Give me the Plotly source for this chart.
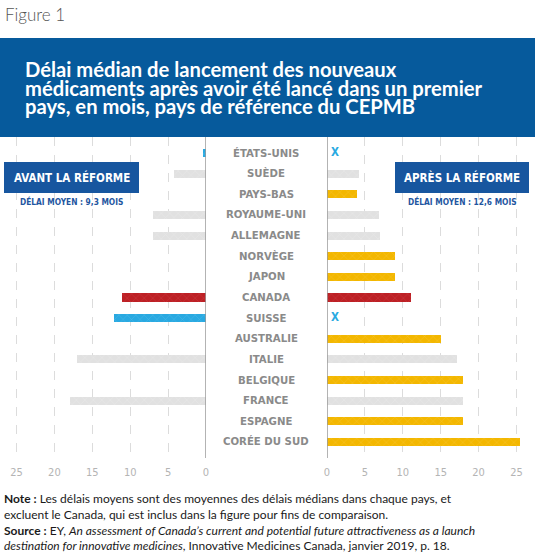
import plotly.graph_objects as go

countries = ["ÉTATS-UNIS", "SUÈDE", "PAYS-BAS", "ROYAUME-UNI", "ALLEMAGNE", "NORVÈGE", "JAPON",
             "CANADA", "SUISSE", "AUSTRALIE", "ITALIE", "BELGIQUE", "FRANCE", "ESPAGNE", "CORÉE DU SUD"]
avant = [0.45, 4.2, None, 7.0, 7.0, None, None, 11.1, 12.1, None, 17.0, None, 17.9, None, None]
apres = [None, 4.2, 4.0, 6.9, 7.0, 9.0, 9.0, 11.1, None, 15.0, 17.1, 18.0, 17.9, 17.9, 25.5]
groupe = ["retiré", "commun", "ajouté", "commun", "commun", "ajouté", "ajouté", "canada",
          "retiré", "ajouté", "commun", "ajouté", "commun", "ajouté", "ajouté"]
ticks = [0, 5, 10, 15, 20, 25]
moy_avant = "9,3"
moy_apres = "12,6"

couleurs = {"retiré": "#29a9e1", "commun": "#e1e1e1", "ajouté": "#f3b700", "canada": "#bd2025"}
motif = {"retiré": "#5cc0ec", "commun": "#ececec", "ajouté": "#f8cc45", "canada": "#d0484c"}

W, H = 535, 557
T, B = 137, 458
PH = B - T


def px(x):
    return x / W


def py(y):
    return (B - y) / PH


fig = go.Figure()

for side, vals, xa in (("L", avant, "x"), ("R", apres, "x2")):
    for g in couleurs:
        ys = [c for c, v, gg in zip(countries, vals, groupe) if gg == g and v is not None]
        xs = [v for c, v, gg in zip(countries, vals, groupe) if gg == g and v is not None]
        if not xs:
            continue
        fig.add_trace(go.Bar(
            x=xs, y=ys, orientation="h", xaxis=xa, yaxis="y",
            width=0.39,
            marker=dict(color=couleurs[g], line=dict(width=0),
                        pattern=dict(shape="x", fgcolor=motif[g], size=6, solidity=0.12, fgopacity=0.8)),
            showlegend=False, hoverinfo="skip"))

cond = "DejaVu Sans Condensed, sans-serif"
body = "Lato, Noto Sans, sans-serif"

# X marks (countries withdrawn after reform)
xs_y = [c for c, v, g in zip(countries, apres, groupe) if v is None and g == "retiré"]
fig.add_trace(go.Scatter(
    x=[1.05] * len(xs_y), y=xs_y, xaxis="x2", yaxis="y", mode="text", text=["X"] * len(xs_y),
    textfont=dict(family=cond, size=11.5, color="#29a9e1", weight="bold"),
    showlegend=False, hoverinfo="skip"))

scale = 7.58
axis_common = dict(tickvals=ticks, showgrid=True, gridcolor="#dcdcdc", griddash="dash", gridwidth=1,
                   zeroline=False, showline=False, ticks="", ticklabelstandoff=6,
                   tickfont=dict(family=cond, size=11, color="#b4b4b4"))

fig.update_layout(
    width=W, height=H,
    margin=dict(l=0, r=0, t=T, b=H - B, autoexpand=False),
    paper_bgcolor="white", plot_bgcolor="white",
    bargap=0,
    xaxis=dict(domain=[0, px(206)], range=[206 / scale, 0], **axis_common),
    xaxis2=dict(domain=[px(327), 1], range=[0, (W - 327) / scale], **axis_common),
    yaxis=dict(type="category", categoryorder="array", categoryarray=countries,
               range=[(B - 153) / 20.64, -(153 - T) / 20.64], showticklabels=False,
               showgrid=False, zeroline=False, showline=False, ticks=""),
)

shapes = [
    dict(type="rect", xref="paper", yref="paper", x0=0, x1=1, y0=py(137), y1=py(38),
         fillcolor="#065a9c", line=dict(width=0), layer="above"),
    dict(type="line", xref="x", yref="paper", x0=0, x1=0, y0=0, y1=1, line=dict(color="#9a9a9a", width=1.5)),
    dict(type="line", xref="x2", yref="paper", x0=0, x1=0, y0=0, y1=1, line=dict(color="#9a9a9a", width=1.5)),
    dict(type="rect", xref="paper", yref="paper", x0=px(4), x1=px(139), y0=py(193), y1=py(162),
         fillcolor="#17569f", line=dict(width=0), layer="above"),
    dict(type="rect", xref="paper", yref="paper", x0=px(395), x1=px(529), y0=py(193), y1=py(162),
         fillcolor="#17569f", line=dict(width=0), layer="above"),
]
fig.update_layout(shapes=shapes)


def note(x, y, text, font, xanchor="left", yref="paper"):
    return dict(x=x, y=y, xref="paper", yref=yref, xanchor=xanchor, yanchor="middle",
                text=text, showarrow=False, font=font)


ann = []
ann.append(note(px(3), py(14), "Figure 1", dict(family=body, size=17, color="#555555", weight=300)))
titre = ["Délai médian de lancement des nouveaux",
         "médicaments après avoir été lancé dans un premier",
         "pays, en mois, pays de référence du CEPMB"]
for i, t in enumerate(titre):
    ann.append(note(px(23), py(69 + 18.7 * i), t, dict(family=body, size=20.2, color="white", weight="bold")))
for c in countries:
    ann.append(note(px(266), c, c, dict(family=cond, size=11.3, color="#8a8a8a", weight="bold"),
                    xanchor="center", yref="y"))
ann.append(note(px(71.5), py(177.5), "AVANT LA RÉFORME",
                dict(family=cond, size=11.5, color="white", weight="bold"), xanchor="center"))
ann.append(note(px(462), py(177.5), "APRÈS LA RÉFORME",
                dict(family=cond, size=11.5, color="white", weight="bold"), xanchor="center"))
ann.append(note(px(71), py(201), f"DÉLAI MOYEN : {moy_avant} MOIS",
                dict(family=cond, size=8.3, color="#1f56a0", weight="bold"), xanchor="center"))
ann.append(note(px(462.5), py(201), f"DÉLAI MOYEN : {moy_apres} MOIS",
                dict(family=cond, size=8.3, color="#1f56a0", weight="bold"), xanchor="center"))
notes = ["<b>Note :</b> Les délais moyens sont des moyennes des délais médians dans chaque pays, et",
         "excluent le Canada, qui est inclus dans la figure pour fins de comparaison.",
         "<b>Source :</b> EY, <i>An assessment of Canada’s current and potential future attractiveness as a launch</i>",
         "<i>destination for innovative medicines</i>, Innovative Medicines Canada, janvier 2019, p. 18."]
for i, t in enumerate(notes):
    ann.append(note(px(2), py(499 + 15.5 * i), t, dict(family=body, size=12, color="#1a1a1a")))
fig.update_layout(annotations=ann)

fig.write_html("out.html", config={"displayModeBar": False},
               post_script="document.body.style.margin='0';document.body.style.overflow='hidden';")
